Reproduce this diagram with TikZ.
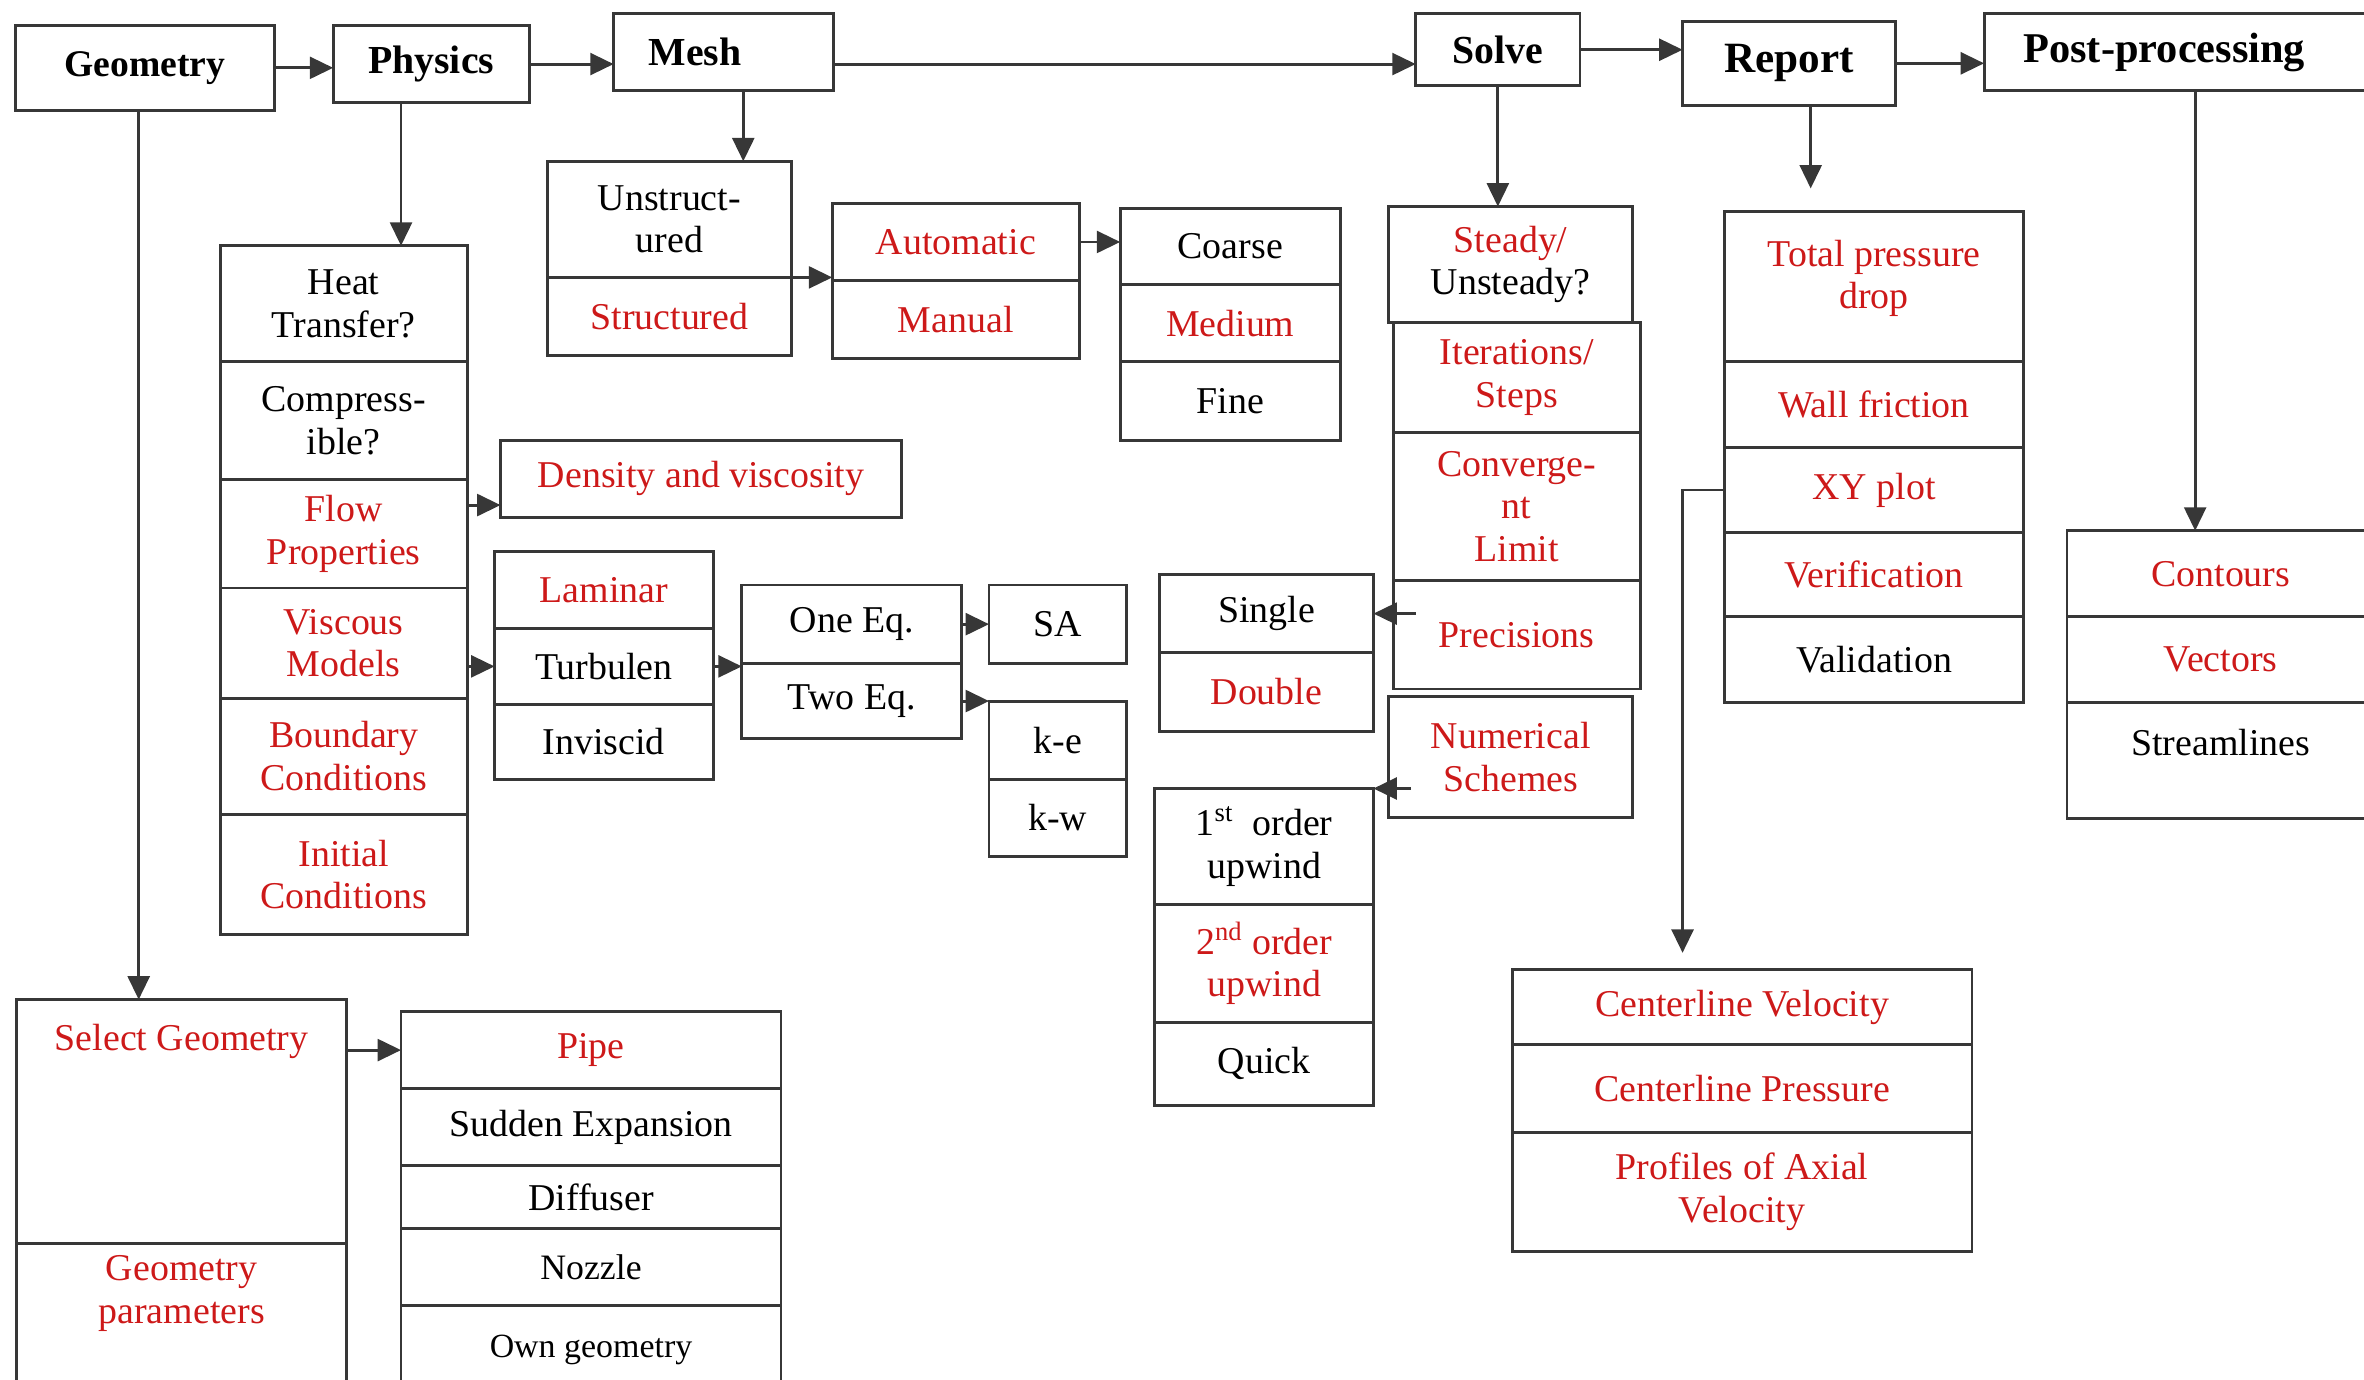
\documentclass[tikz,border=0pt]{standalone}
\usepackage{fontspec}
\setmainfont{Liberation Serif}
\usetikzlibrary{arrows.meta}
\definecolor{cfdred}{RGB}{205,25,25}
\definecolor{boxgray}{RGB}{55,55,55}
\tikzset{
	cell/.style={draw=boxgray, line width=1.1pt, rectangle, inner sep=0pt, outer sep=0pt,
		align=center, font=\fontsize{14.3}{16}\selectfont},
	stage/.style={cell, font=\fontsize{15}{17}\selectfont\bfseries},
	arr/.style={draw=boxgray, line width=1.1pt, -{Triangle[length=3.1mm,width=2.9mm]}},
}
\begin{document}
\begin{tikzpicture}[x=0.2mm, y=-0.2mm]
		\useasboundingbox (0,0) rectangle (1568,915);
		
		% Main stages along the top
		\foreach \nm/\xa/\ya/\xb/\yb/\txt in {geo/10/17/182/73/{\fontsize{14.2}{17}\selectfont Geometry},
			phys/221/17/351/68/Physics, mesh/407/9/553/60/{Mesh\hspace{7.6mm}}, solve/939/9/1048/57/Solve,
			report/1116/14/1257/70/{\fontsize{16.3}{18}\selectfont Report},
			post/1316/9/1575/60/{\fontsize{16}{18}\selectfont Post-processing\hspace{4mm}}} {
			\node[stage, minimum width={(\xb-\xa)*0.2mm}, minimum height={(\yb-\ya)*0.2mm}]
			(\nm) at ({(\xa+\xb)/2},{(\ya+\yb)/2}) {\txt};
		}
		
		% Physics column
		\def\xa{146} \def\xb{310}
		\foreach \nm/\ya/\yb/\clr/\txt in {heat/163/240/black/{Heat\\Transfer?},
			comp/240/318/black/{Compress-\\ible?}, flow/318/390/cfdred/{Flow\\Properties},
			visc/390/463/cfdred/{Viscous\\Models}, bound/463/540/cfdred/{Boundary\\Conditions},
			init/540/620/cfdred/{Initial\\Conditions}} {
			\node[cell, text=\clr, minimum width={(\xb-\xa)*0.2mm}, minimum height={(\yb-\ya)*0.2mm}]
			(\nm) at ({(\xa+\xb)/2},{(\ya+\yb)/2}) {\txt};
		}
		\node[cell, text=cfdred, minimum width=53.2mm, minimum height=10.2mm] (dens) at (465,317.5) {Density and viscosity};
		
		% Viscous models
		\def\xa{328} \def\xb{473}
		\foreach \nm/\ya/\yb/\clr/\txt in {lam/366/417/cfdred/Laminar, turb/417/467/black/Turbulen,
			invis/467/517/black/Inviscid} {
			\node[cell, text=\clr, minimum width={(\xb-\xa)*0.2mm}, minimum height={(\yb-\ya)*0.2mm}]
			(\nm) at ({(\xa+\xb)/2},{(\ya+\yb)/2}) {\txt};
		}
		\def\xa{492} \def\xb{638}
		\foreach \nm/\ya/\yb/\txt in {oneq/388/440/{One Eq.}, twoeq/440/490/{Two Eq.}} {
			\node[cell, minimum width={(\xb-\xa)*0.2mm}, minimum height={(\yb-\ya)*0.2mm}]
			(\nm) at ({(\xa+\xb)/2},{(\ya+\yb)/2}) {\txt};
		}
		\def\xa{656} \def\xb{747}
		\foreach \nm/\ya/\yb/\txt in {sa/388/440/SA, ke/465/517/k-e, kw/517/568/k-w} {
			\node[cell, minimum width={(\xb-\xa)*0.2mm}, minimum height={(\yb-\ya)*0.2mm}]
			(\nm) at ({(\xa+\xb)/2},{(\ya+\yb)/2}) {\txt};
		}
		
		% Mesh columns
		\def\xa{363} \def\xb{525}
		\foreach \nm/\ya/\yb/\clr/\txt in {unstr/107/184/black/{Unstruct-\\ured}, struct/184/236/cfdred/Structured} {
			\node[cell, text=\clr, minimum width={(\xb-\xa)*0.2mm}, minimum height={(\yb-\ya)*0.2mm}]
			(\nm) at ({(\xa+\xb)/2},{(\ya+\yb)/2}) {\txt};
		}
		\def\xa{552} \def\xb{716}
		\foreach \nm/\ya/\yb/\txt in {auto/135/186/Automatic, manual/186/238/Manual} {
			\node[cell, text=cfdred, minimum width={(\xb-\xa)*0.2mm}, minimum height={(\yb-\ya)*0.2mm}]
			(\nm) at ({(\xa+\xb)/2},{(\ya+\yb)/2}) {\txt};
		}
		\def\xa{743} \def\xb{889}
		\foreach \nm/\ya/\yb/\clr/\txt in {coarse/138/189/black/Coarse, medium/189/240/cfdred/Medium,
			fine/240/292/black/Fine} {
			\node[cell, text=\clr, minimum width={(\xb-\xa)*0.2mm}, minimum height={(\yb-\ya)*0.2mm}]
			(\nm) at ({(\xa+\xb)/2},{(\ya+\yb)/2}) {\txt};
		}
		
		% Solve columns
		\node[cell, minimum width=32.4mm, minimum height=15.4mm] (steady) at (1002,175.5) {\textcolor{cfdred}{Steady/}\\Unsteady?};
		\def\xa{924} \def\xb{1088}
		\foreach \nm/\ya/\yb/\txt in {iter/214/287/{Iterations/\\Steps}, conv/287/385/{Converge-\\nt\\Limit},
			prec/385/457/Precisions} {
			\node[cell, text=cfdred, minimum width={(\xb-\xa)*0.2mm}, minimum height={(\yb-\ya)*0.2mm}]
			(\nm) at ({(\xa+\xb)/2},{(\ya+\yb)/2}) {\txt};
		}
		\node[cell, text=cfdred, minimum width=32.4mm, minimum height=16mm] (numer) at (1002,502) {Numerical\\Schemes};
		\def\xa{769} \def\xb{911}
		\foreach \nm/\ya/\yb/\clr/\txt in {single/381/433/black/Single, double/433/485/cfdred/Double} {
			\node[cell, text=\clr, minimum width={(\xb-\xa)*0.2mm}, minimum height={(\yb-\ya)*0.2mm}]
			(\nm) at ({(\xa+\xb)/2},{(\ya+\yb)/2}) {\txt};
		}
		\def\xa{766} \def\xb{911}
		\foreach \nm/\ya/\yb/\clr/\txt in {first/523/600/black/{1\textsuperscript{st}\ \ order\\upwind},
			second/600/678/cfdred/{2\textsuperscript{nd} order\\upwind}, quick/678/733/black/Quick} {
			\node[cell, text=\clr, minimum width={(\xb-\xa)*0.2mm}, minimum height={(\yb-\ya)*0.2mm}]
			(\nm) at ({(\xa+\xb)/2},{(\ya+\yb)/2}) {\txt};
		}
		
		% Report columns
		\def\xa{1144} \def\xb{1342}
		\foreach \nm/\ya/\yb/\clr/\txt in {total/140/240/cfdred/{Total pressure\\drop\\[-2.4mm]},
			wall/240/297/cfdred/{Wall friction}, xy/297/353/cfdred/{XY plot},
			verif/353/409/cfdred/Verification, valid/409/466/black/Validation} {
			\node[cell, text=\clr, minimum width={(\xb-\xa)*0.2mm}, minimum height={(\yb-\ya)*0.2mm}]
			(\nm) at ({(\xa+\xb)/2},{(\ya+\yb)/2}) {\txt};
		}
		\def\xa{1003} \def\xb{1308}
		\foreach \nm/\ya/\yb/\txt in {cvel/643/693/{Centerline Velocity}, cpres/693/751/{Centerline Pressure},
			prof/751/830/{Profiles of Axial\\Velocity}} {
			\node[cell, text=cfdred, minimum width={(\xb-\xa)*0.2mm}, minimum height={(\yb-\ya)*0.2mm}]
			(\nm) at ({(\xa+\xb)/2},{(\ya+\yb)/2}) {\txt};
		}
		
		% Post-processing column
		\def\xa{1371} \def\xb{1575}
		\foreach \nm/\ya/\yb/\clr/\txt in {contours/352/409/cfdred/Contours, vectors/409/466/cfdred/Vectors,
			stream/466/543/black/{Streamlines\\[-0.8mm]}} {
			\node[cell, text=\clr, minimum width={(\xb-\xa)*0.2mm}, minimum height={(\yb-\ya)*0.2mm}]
			(\nm) at ({(\xa+\xb)/2},{(\ya+\yb)/2}) {\txt};
		}
		
		% Geometry columns
		\node[cell, minimum width=43.8mm, minimum height=32.4mm,
		label={[cell, draw=none, text=cfdred, anchor=center, yshift=-5.6mm]north:Select Geometry}] (sel) at (120.5,744) {};
		\node[cell, minimum width=43.8mm, minimum height=20mm,
		label={[cell, draw=none, text=cfdred, anchor=center, yshift=-6.6mm]north:Geometry\\parameters}] (gpar) at (120.5,875) {};
		\def\xa{266} \def\xb{518}
		\foreach \nm/\ya/\yb/\clr/\txt in {pipe/671/722/cfdred/Pipe, sudden/722/773/black/{Sudden Expansion},
			diff/773/815/black/Diffuser, nozzle/815/866/black/{\fontsize{13.5}{15}\selectfont Nozzle},
			own/866/925/black/{\fontsize{12.8}{14}\selectfont Own geometry}} {
			\node[cell, text=\clr, minimum width={(\xb-\xa)*0.2mm}, minimum height={(\yb-\ya)*0.2mm}]
			(\nm) at ({(\xa+\xb)/2},{(\ya+\yb)/2}) {\txt};
		}
		
		% Arrows between the stages
		\draw[arr] (geo.east) -- (geo.east -| phys.west);
		\draw[arr] (phys.east) -- (phys.east -| mesh.west);
		\draw[arr] (mesh.east |- phys.east) -- (solve.west |- phys.east);
		\draw[arr] (solve.east) -- (solve.east -| report.west);
		\draw[arr] (report.east) -- (report.east -| post.west);
		
		% Arrows down from the stages
		\draw[arr] ([xshift=-0.8mm]geo.south) -- ([xshift=-0.8mm]geo.south |- sel.north);
		\draw[arr] ([xshift=-4mm]phys.south) -- ([xshift=-4mm]phys.south |- heat.north);
		\draw[arr] ([xshift=2.6mm]mesh.south) -- ([xshift=2.6mm]mesh.south |- unstr.north);
		\draw[arr] (solve.south) -- (solve.south |- steady.north);
		\draw[arr, shorten >=3mm] ([xshift=2.9mm]report.south) -- ([xshift=2.9mm]report.south |- total.north);
		\draw[arr] ([xshift=2.1mm]post.south) -- ([xshift=2.1mm]post.south |- contours.north);
		
		% Arrows to the options
		\draw[arr] ([yshift=3.8mm]flow.east) -- ([yshift=3.8mm]flow.east -| dens.west);
		\draw[arr] (visc.east |- turb.west) -- (turb.west);
		\draw[arr] (turb.east) -- (turb.east -| oneq.west);
		\draw[arr] (oneq.east) -- (sa.west);
		\draw[arr] (twoeq.east) -- (twoeq.east -| ke.west);
		\draw[arr] (struct.north east) -- (struct.north east -| auto.west);
		\draw[arr] (auto.east) -- (auto.east -| coarse.west);
		\draw[arr] ([xshift=3mm]prec.west |- single.east) -- (single.east);
		\draw[arr] ([xshift=3mm]numer.west |- first.north east) -- (first.north east);
		\draw[arr, shorten >=2.2mm] (xy.west) -- ([xshift=-5.6mm]xy.west) -- ([xshift=-5.6mm]xy.west |- cvel.north);
		\draw[arr] (sel.east |- pipe.west) -- (pipe.west);
	\end{tikzpicture}
\end{document}
